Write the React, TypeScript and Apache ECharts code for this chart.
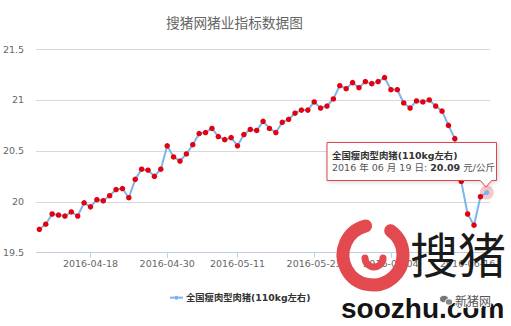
import React, { useEffect, useRef } from 'react';
import * as echarts from 'echarts';

const chartTitle = '搜猪网猪业指标数据图';
const seriesName = '全国瘦肉型肉猪(110kg左右)';
const unit = '元/公斤';

const dates: string[] = [
  '2016-04-10', '2016-04-11', '2016-04-12', '2016-04-13', '2016-04-14', '2016-04-15', '2016-04-16', '2016-04-17',
  '2016-04-18', '2016-04-19', '2016-04-20', '2016-04-21', '2016-04-22', '2016-04-23', '2016-04-24', '2016-04-25',
  '2016-04-26', '2016-04-27', '2016-04-28', '2016-04-29', '2016-04-30', '2016-05-01', '2016-05-02', '2016-05-03',
  '2016-05-04', '2016-05-05', '2016-05-06', '2016-05-07', '2016-05-08', '2016-05-09', '2016-05-10', '2016-05-11',
  '2016-05-12', '2016-05-13', '2016-05-14', '2016-05-15', '2016-05-16', '2016-05-17', '2016-05-18', '2016-05-19',
  '2016-05-20', '2016-05-21', '2016-05-22', '2016-05-23', '2016-05-24', '2016-05-25', '2016-05-26', '2016-05-27',
  '2016-05-28', '2016-05-29', '2016-05-30', '2016-05-31', '2016-06-01', '2016-06-02', '2016-06-03', '2016-06-04',
  '2016-06-05', '2016-06-06', '2016-06-07', '2016-06-08', '2016-06-09', '2016-06-10', '2016-06-11', '2016-06-12',
  '2016-06-13', '2016-06-14', '2016-06-15', '2016-06-16', '2016-06-17', '2016-06-18', '2016-06-19',
];

const prices: number[] = [
  19.73, 19.78, 19.88, 19.87, 19.86, 19.90, 19.86, 19.99,
  19.95, 20.02, 20.01, 20.06, 20.12, 20.13, 20.04, 20.22,
  20.32, 20.31, 20.25, 20.32, 20.55, 20.44, 20.40, 20.47,
  20.56, 20.67, 20.68, 20.72, 20.64, 20.61, 20.63, 20.55,
  20.66, 20.71, 20.70, 20.79, 20.72, 20.68, 20.78, 20.81,
  20.87, 20.90, 20.90, 20.98, 20.92, 20.94, 21.01, 21.14,
  21.11, 21.17, 21.12, 21.18, 21.16, 21.18, 21.22, 21.10,
  21.10, 20.97, 20.92, 20.99, 20.98, 21.00, 20.94, 20.89,
  20.75, 20.62, 20.20, 19.88, 19.77, 20.05, 20.09,
];

const tickLabels: string[] = ['2016-04-18', '2016-04-30', '2016-05-11', '2016-05-23', '2016-06-04', '2016-06-16'];

const yMin = 19.5;
const yMax = 21.5;
const yStep = 0.5;

export default function App() {
  const ref = useRef<HTMLDivElement>(null);

  useEffect(() => {
    if (!ref.current) return;
    const chart = echarts.init(ref.current, undefined, { renderer: 'svg' });
    const lastIdx = prices.length - 1;
    const lastDate = dates[lastIdx];
    const [yy, mm, dd] = lastDate.split('-');
    const axisFont = "'DejaVu Sans', 'Noto Sans CJK SC', sans-serif";
    const cjkFont = "'DejaVu Sans', 'Noto Sans CJK SC', sans-serif";
    const showTick = (_i: number, v: string) => tickLabels.indexOf(v) >= 0;

    chart.setOption({
      animation: false,
      backgroundColor: '#ffffff',
      title: {
        text: chartTitle,
        left: 166,
        top: 15,
        padding: 0,
        textStyle: { fontSize: 13.7, color: '#666', fontWeight: 'normal', fontFamily: "'Noto Sans CJK SC', sans-serif" },
      },
      grid: { left: 33, right: 21, top: 49, bottom: 73.3, containLabel: false },
      legend: {
        data: [{ name: seriesName, itemStyle: { color: '#7cb5ec' }, lineStyle: { color: '#7cb5ec' } }],
        left: 169,
        top: 293,
        padding: 0,
        itemWidth: 13,
        itemHeight: 5,
        itemGap: 10,
        textStyle: { fontSize: 9.3, fontWeight: 'bold', color: '#333', fontFamily: cjkFont, padding: [0, 0, 0, -2] },
      },
      xAxis: {
        type: 'category',
        data: dates,
        boundaryGap: true,
        axisLine: { lineStyle: { color: '#C0D0E0', width: 1 } },
        axisTick: { show: true, alignWithLabel: true, interval: showTick, length: 5, lineStyle: { color: '#C0D0E0' } },
        axisLabel: { interval: showTick, fontSize: 9.5, color: '#666', fontFamily: axisFont, margin: 6 },
        splitLine: { show: false },
      },
      yAxis: {
        type: 'value',
        min: yMin,
        max: yMax,
        interval: yStep,
        axisLine: { show: false },
        axisTick: { show: false },
        axisLabel: { fontSize: 9.5, color: '#666', fontFamily: axisFont, margin: 12 },
        splitLine: { lineStyle: { color: '#D8D8D8', width: 1 } },
      },
      series: [
        {
          name: 'halo',
          type: 'scatter',
          data: [[lastDate, prices[lastIdx]]],
          symbolSize: 14,
          itemStyle: { color: 'rgba(232,70,85,0.38)' },
          z: 1,
          silent: true,
        },
        {
          name: seriesName,
          type: 'line',
          data: prices.map((v, i) =>
            i === lastIdx ? { value: v, symbolSize: 5, itemStyle: { color: '#7cb5ec' } } : v
          ),
          symbol: 'circle',
          symbolSize: 5.5,
          showAllSymbol: true,
          itemStyle: { color: '#e3000f' },
          lineStyle: { color: '#7cb5ec', width: 2 },
          z: 3,
        },
      ],
      graphic: [
        {
          type: 'arc',
          z: 50,
          shape: { cx: 373, cy: 255, r: 30, startAngle: -Math.PI * 0.3, endAngle: Math.PI * 1.42, clockwise: true },
          style: { stroke: '#e24a50', lineWidth: 13, fill: 'none', lineCap: 'round' },
        },
        {
          type: 'arc',
          z: 50,
          shape: { cx: 374, cy: 258, r: 9, startAngle: 0, endAngle: Math.PI, clockwise: true },
          style: { stroke: '#e24a50', lineWidth: 7, fill: 'none', lineCap: 'round' },
        },
        {
          type: 'text',
          z: 50,
          style: {
            text: '搜猪',
            x: 410,
            y: 252,
            fontSize: 48,
            fontFamily: "'Noto Sans CJK SC', sans-serif",
            fill: '#1a1a1a',
            textVerticalAlign: 'middle',
          },
        },
        {
          type: 'text',
          z: 50,
          style: {
            text: 'soozhu.com',
            x: 341,
            y: 322,
            fontSize: 28,
            fontWeight: 'bold',
            fontFamily: "'Liberation Sans', Arial, sans-serif",
            fill: '#141414',
            textVerticalAlign: 'bottom',
          },
        },
        { type: 'ellipse', z: 51, shape: { cx: 444, cy: 299, rx: 4.5, ry: 3.8 }, style: { fill: '#777', stroke: '#fff', lineWidth: 1 } },
        { type: 'ellipse', z: 51, shape: { cx: 449, cy: 302, rx: 3.8, ry: 3.2 }, style: { fill: '#888', stroke: '#fff', lineWidth: 1 } },
        {
          type: 'text',
          z: 51,
          style: {
            text: '新猪网',
            x: 455,
            y: 300,
            fontSize: 12,
            fontFamily: "'Noto Sans CJK SC', sans-serif",
            fill: '#555',
            stroke: '#fff',
            lineWidth: 2,
            textVerticalAlign: 'middle',
          },
        },
        {
          type: 'polygon',
          z: 60,
          shape: {
            points: [
              [327, 142.5], [496.5, 142.5], [496.5, 180.5], [491.5, 180.5], [486, 187], [480.5, 180.5], [327, 180.5],
            ],
          },
          style: {
            fill: 'rgba(255,255,255,0.95)',
            stroke: '#e0474d',
            lineWidth: 1,
            shadowBlur: 4,
            shadowColor: 'rgba(0,0,0,0.18)',
            shadowOffsetX: 1,
            shadowOffsetY: 1,
          },
        },
        {
          type: 'text',
          z: 61,
          style: {
            text: `{b|${seriesName}}\n{n|${yy} 年 ${mm} 月 ${dd} 日: }{v|${prices[lastIdx].toFixed(2)}}{n| ${unit}}`,
            x: 332,
            y: 149.5,
            rich: {
              b: { fontSize: 9.4, fontWeight: 'bold', fill: '#333', fontFamily: cjkFont, lineHeight: 12 },
              n: { fontSize: 9.5, fill: '#555', fontFamily: cjkFont, lineHeight: 12 },
              v: { fontSize: 9.5, fontWeight: 'bold', fill: '#333', fontFamily: cjkFont, lineHeight: 12 },
            },
          },
        },
      ],
    });

    return () => chart.dispose();
  }, []);

  return (
    <div
      ref={ref}
      style={{ position: 'fixed', left: 0, top: 0, width: 511, height: 326, background: '#fff' }}
    />
  );
}
